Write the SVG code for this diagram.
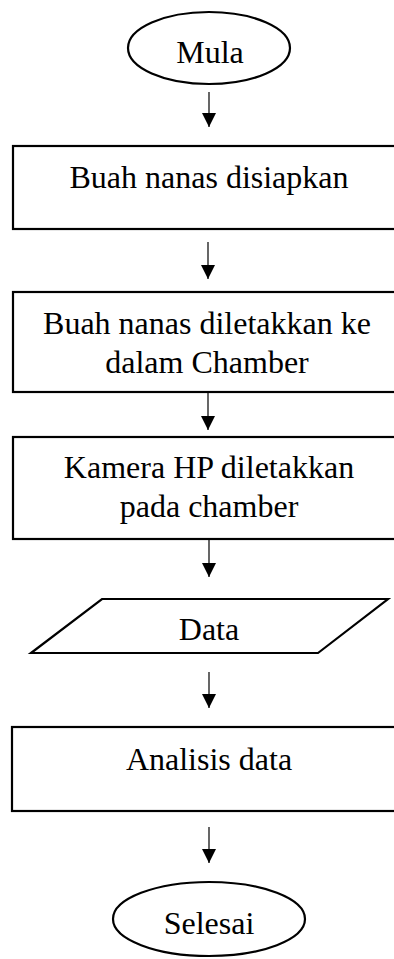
<svg xmlns="http://www.w3.org/2000/svg" width="394" height="959" viewBox="0 0 394 959">
<defs>
<style>
.shape{fill:#fff;stroke:#000;stroke-width:2.2}
.lbl{font-family:"Liberation Serif","Times New Roman",serif;font-size:32px;fill:#000;text-anchor:middle}
.conn{stroke:#000;stroke-width:1.2;fill:none}
</style>
<marker id="ah" viewBox="0 0 14 14" refX="14" refY="7" markerWidth="14" markerHeight="14" markerUnits="userSpaceOnUse" orient="auto">
<path d="M0,0 L14,7 L0,14 Z" fill="#000"/>
</marker>
</defs>
<rect width="394" height="959" fill="#fff"/>
<g id="mula">
<ellipse class="shape" cx="209" cy="48" rx="81" ry="36"/>
<text class="lbl" x="210" y="63">Mula</text>
</g>
<g id="disiapkan">
<rect class="shape" x="13" y="146" width="393" height="83"/>
<text class="lbl" x="209" y="188">Buah nanas disiapkan</text>
</g>
<g id="diletakkan">
<rect class="shape" x="13" y="292" width="393" height="100"/>
<text class="lbl" x="207" y="334">Buah nanas diletakkan ke</text>
<text class="lbl" x="207" y="373">dalam Chamber</text>
</g>
<g id="kamera">
<rect class="shape" x="13" y="437" width="393" height="102"/>
<text class="lbl" x="209" y="478">Kamera HP diletakkan</text>
<text class="lbl" x="209" y="517">pada chamber</text>
</g>
<g id="data">
<polygon class="shape" points="102,599 388,599 318,653 31,653"/>
<text class="lbl" x="209" y="640">Data</text>
</g>
<g id="analisis">
<rect class="shape" x="12" y="727" width="394" height="84"/>
<text class="lbl" x="209" y="770">Analisis data</text>
</g>
<g id="selesai">
<ellipse class="shape" cx="209" cy="919" rx="96" ry="37"/>
<text class="lbl" x="209" y="934">Selesai</text>
</g>
<g id="connectors">
<line class="conn" x1="209" y1="92" x2="209" y2="127" marker-end="url(#ah)"/>
<line class="conn" x1="208" y1="242" x2="208" y2="279" marker-end="url(#ah)"/>
<line class="conn" x1="208" y1="392" x2="208" y2="430" marker-end="url(#ah)"/>
<line class="conn" x1="209" y1="539" x2="209" y2="577" marker-end="url(#ah)"/>
<line class="conn" x1="209" y1="672" x2="209" y2="708" marker-end="url(#ah)"/>
<line class="conn" x1="209" y1="827" x2="209" y2="863" marker-end="url(#ah)"/>
</g>
</svg>
